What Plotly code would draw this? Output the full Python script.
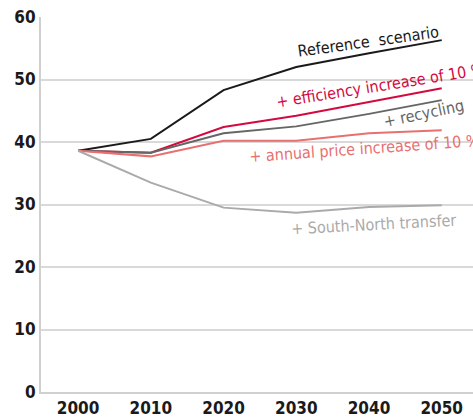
import plotly.graph_objects as go

years = [2000, 2010, 2020, 2030, 2040, 2050]
reference = [38.6, 40.5, 48.3, 52.0, 54.2, 56.3]
efficiency = [38.6, 38.3, 42.4, 44.2, 46.4, 48.6]
recycling = [38.6, 38.3, 41.4, 42.5, 44.5, 46.7]
price = [38.6, 37.7, 40.2, 40.2, 41.4, 41.9]
transfer = [38.6, 33.5, 29.5, 28.7, 29.6, 29.9]

series = [
    ("Reference  scenario", reference, "#1a1a1a"),
    ("+ efficiency increase of 10 %", efficiency, "#d4093f"),
    ("+ recycling", recycling, "#666666"),
    ("+ annual price increase of 10 %", price, "#e8706f"),
    ("+ South-North transfer", transfer, "#aaaaaa"),
]

labels = [
    # text, x, y, angle, color
    ("Reference  scenario", 2039.9, 56.1, -8, "#1a1a1a"),
    ("+ efficiency increase of 10 %", 2041.6, 49.1, -9, "#d4093f"),
    ("+ recycling", 2047.5, 44.5, -12, "#666666"),
    ("+ annual price increase of 10 %", 2039.4, 38.9, -4, "#e8706f"),
    ("+ South-North transfer", 2040.6, 26.8, -3, "#aaaaaa"),
]

FONT = "DejaVu Sans Condensed, Liberation Sans Narrow, Arial Narrow, sans-serif"

fig = go.Figure()
for name, vals, col in series:
    fig.add_trace(go.Scatter(x=years, y=vals, mode="lines", name=name,
                             line=dict(color=col, width=2), showlegend=False))

for text, x, y, ang, col in labels:
    fig.add_annotation(x=x, y=y, text=text, showarrow=False, textangle=ang,
                       xanchor="center", yanchor="middle",
                       font=dict(family=FONT, size=16, color=col))

fig.update_layout(
    width=473, height=417,
    margin=dict(l=41, r=0, t=17, b=25),
    plot_bgcolor="white", paper_bgcolor="white",
    font=dict(family=FONT, color="#1a1a1a"),
)
fig.update_xaxes(range=[1994.9, 2054.3], tickvals=years, ticktext=[str(y) for y in years],
                 showgrid=False, showline=True, linecolor="#d0d0d0", linewidth=2,
                 tickfont=dict(size=17, family=FONT, weight="bold", color="#1a1a1a"),
                 ticks="", zeroline=False)
fig.update_yaxes(range=[0, 60], tickvals=[0, 10, 20, 30, 40, 50, 60],
                 showgrid=True, gridcolor="#d9d9d9", gridwidth=1.5,
                 showline=True, linecolor="#d0d0d0", linewidth=2,
                 tickfont=dict(size=17, family=FONT, weight="bold", color="#1a1a1a"),
                 ticks="", zeroline=False)

fig.write_html("out.html", config={"displayModeBar": False},
               post_script="document.body.style.margin='0';")
